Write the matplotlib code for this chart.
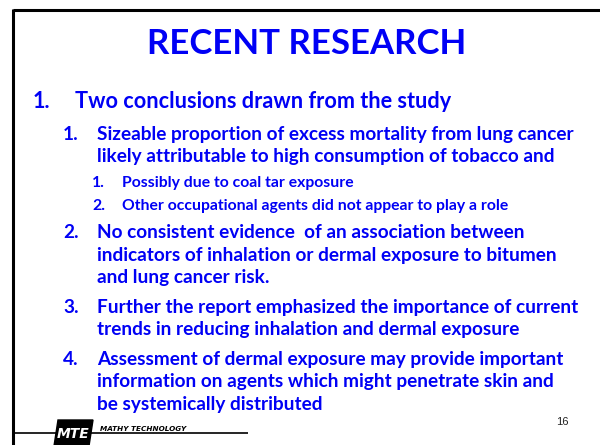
import matplotlib
matplotlib.use("Agg")
import matplotlib.pyplot as plt
from matplotlib.patches import Polygon

title = "RECENT RESEARCH"
level1 = [("1.", "Two conclusions drawn from the study")]
level2_a = [("1.", ["Sizeable proportion of excess mortality from lung cancer",
                    "likely attributable to high consumption of tobacco and"])]
level3 = [("1.", "Possibly due to coal tar exposure"),
          ("2.", "Other occupational agents did not appear to play a role")]
level2_b = [("2.", ["No consistent evidence  of an association between",
                    "indicators of inhalation or dermal exposure to bitumen",
                    "and lung cancer risk."]),
            ("3.", ["Further the report emphasized the importance of current",
                    "trends in reducing inhalation and dermal exposure"]),
            ("4.", ["Assessment of dermal exposure may provide important",
                    "information on agents which might penetrate skin and",
                    "be systemically distributed"])]
page_number = "16"
company = "MATHY TECHNOLOGY"

BLUE = "#0000f5"
FONT = "Lato"

fig = plt.figure(figsize=(6.0, 4.45), dpi=100)
ax = fig.add_axes([0, 0, 1, 1])
ax.set_xlim(0, 600)
ax.set_ylim(445, 0)
ax.axis("off")

# borders
ax.plot([13, 600], [10, 10], color="black", lw=2.2, solid_capstyle="butt")
ax.plot([13, 13], [9, 445], color="black", lw=2.2, solid_capstyle="butt")
ax.plot([13, 248], [433, 433], color="black", lw=1.2, solid_capstyle="butt")

# title
ax.text(307, 54, title, fontsize=25, fontweight="bold", color=BLUE,
        family=FONT, ha="center", va="baseline")

def item(num, lines, xnum, xtext, y0, size, dy):
    ax.text(xnum, y0, num, fontsize=size, fontweight="bold", color=BLUE,
            family=FONT, ha="left", va="baseline")
    for i, ln in enumerate(lines):
        ax.text(xtext, y0 + i * dy, ln, fontsize=size, fontweight="bold",
                color=BLUE, family=FONT, ha="left", va="baseline")

L1, L2, L3 = 15.6, 13.7, 11.3
# level 1
item(level1[0][0], [level1[0][1]], 33, 75, 108.5, L1, 22)
# level 2 first
item(level2_a[0][0], level2_a[0][1], 63, 97, 140, L2, 22)
# level 3
item(level3[0][0], [level3[0][1]], 92, 122, 187, L3, 22)
item(level3[1][0], [level3[1][1]], 92, 122, 210, L3, 22)
# level 2 rest
starts = [238, 313, 365]
for (num, lines), y0 in zip(level2_b, starts):
    item(num, lines, 63, 97, y0, L2, 22.5)

# page number
ax.text(562, 422, page_number, fontsize=8, color="#222222",
        family="Liberation Sans", ha="center", va="center")

# logo
ax.add_patch(Polygon([[58, 420], [93, 420], [89, 446], [54, 446]],
                     closed=True, facecolor="black", edgecolor="black"))
ax.text(73.5, 434, "MTE", fontsize=10, fontweight="bold", style="italic",
        color="white", family="DejaVu Sans", ha="center", va="center")
ax.text(100, 429, company, fontsize=5.2, fontweight="bold", style="italic",
        color="black", family="DejaVu Sans", ha="left", va="center")

fig.savefig("out.png", dpi=100, facecolor="white")
